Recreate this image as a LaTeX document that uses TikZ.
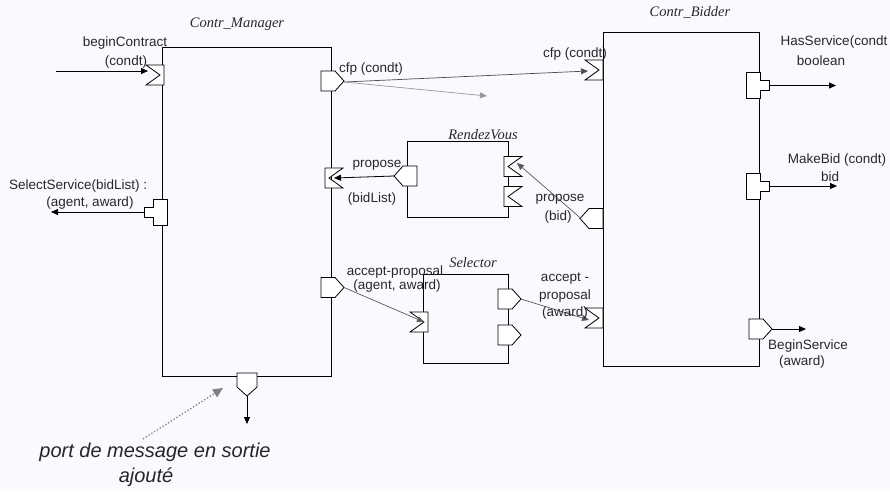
\documentclass[tikz,border=0pt]{standalone}
\usepackage{fontspec}
\setmainfont{Liberation Serif}
\setsansfont{Liberation Sans}
\usetikzlibrary{arrows.meta}
\definecolor{bg}{RGB}{248,250,254}
\definecolor{txt}{RGB}{40,40,40}
\begin{document}
\begin{tikzpicture}[x=1pt,y=-1pt,
  box/.style={draw=black,line width=1pt,inner sep=0pt,anchor=north west},
  lbl/.style={font=\sffamily\fontsize{13.5}{15}\selectfont,text=txt,inner sep=0pt},
  ttl/.style={font=\rmfamily\itshape\fontsize{14.5}{16}\selectfont,text=txt,inner sep=0pt},
  note/.style={font=\sffamily\itshape\fontsize{20}{22}\selectfont,text=black!85,inner sep=0pt},
  portline/.style={draw=black,fill=white,line width=0.8pt},
  conn/.style={-{Triangle[length=7pt,width=6pt]},line width=0.8pt,draw=black},
  gconn/.style={-{Triangle[length=7pt,width=6pt]},line width=0.7pt,draw=black!65},
  inport/.pic={\path[portline] (0,-10) -- (18,-10) -- (18,10) -- (0,10) -- (14,0) -- cycle;},
  outport/.pic={\path[portline] (0,-10) -- (14,-10) -- (23,0) -- (14,10) -- (0,10) -- cycle;},
  tport/.pic={\path[portline] (0,-13) -- (14,-13) -- (14,-5) -- (23,-5) -- (23,5) -- (14,5) -- (14,13) -- (0,13) -- cycle;}
]
\fill[bg] (0,0) rectangle (890,491);
\useasboundingbox (0,0) rectangle (890,491);

% boxes
\node[box,minimum width=169pt,minimum height=329pt] (mgr) at (162,47) {};
\node[box,minimum width=156pt,minimum height=334pt] (bid) at (603,32) {};
\node[box,minimum width=101pt,minimum height=76pt] (rv) at (407,141) {};
\node[box,minimum width=85pt,minimum height=89pt] (sel) at (423,274) {};

% titles
\node[ttl] (tmgr) at (237,24) {Contr\_Manager};
\node[ttl] (tbid) at (690,12) {Contr\_Bidder};
\node[ttl] (trv) at (483,135) {RendezVous};
\node[ttl] (tsel) at (473,263) {Selector};

% ports on Contr_Manager
\pic at (146,75) {inport};
\pic at (321,81) {outport};
\pic[rotate=180] at (343,178) {inport};
\pic[rotate=180] at (167,212) {tport};
\pic at (321,287.5) {outport};
\pic[rotate=-90] at (247,373) {outport};

% ports on Contr_Bidder
\pic at (585,70) {inport};
\pic at (746,85.5) {tport};
\pic at (746,186) {tport};
\pic[rotate=180] at (603,218.5) {outport};
\pic at (585,318) {inport};
\pic at (749,329) {outport};

% ports on RendezVous
\pic[rotate=180] at (417,176) {outport};
\pic[rotate=180] at (522,166.5) {inport};
\pic[rotate=180] at (522,196.5) {inport};

% ports on Selector
\pic at (410,322) {inport};
\pic at (498,299) {outport};
\pic at (498,335) {outport};

% connector end points
\coordinate (bcStart) at (56,71);
\coordinate (bcIn) at (148,71);
\coordinate (cfpM) at (344,82);
\coordinate (cfpB) at (588,71);
\coordinate (grayEnd) at (487,96);
\coordinate (ssM) at (144,212);
\coordinate (ssEnd) at (51,212);
\coordinate (rvL) at (394,176);
\coordinate (propM) at (334,178);
\coordinate (propB) at (581,218.5);
\coordinate (rvR) at (517,163);
\coordinate (accM) at (344,287.5);
\coordinate (selIn) at (424,322);
\coordinate (selOut) at (521,299);
\coordinate (accB) at (589,320);
\coordinate (botM) at (247,396);
\coordinate (botEnd) at (247,424);
\coordinate (hsOut) at (769,85.5);
\coordinate (hsEnd) at (836,85.5);
\coordinate (mbOut) at (769,186);
\coordinate (mbEnd) at (837,186);
\coordinate (bsOut) at (772,329);
\coordinate (bsEnd) at (806,329);
\coordinate (noteStart) at (143,439);
\coordinate (noteEnd) at (223,388);

% connectors
\draw[conn] (bcStart) -- (bcIn);
\draw[gconn,draw=black!70] (cfpM) -- (cfpB);
\draw[gconn,draw=black!40,-{Triangle[length=7pt,width=6pt,fill=black!40]}] (cfpM) -- (grayEnd);
\draw[conn] (ssM) -- (ssEnd);
\draw[conn] (rvL) -- (propM);
\draw[gconn] (propB) -- (rvR);
\draw[gconn] (accM) -- (selIn);
\draw[gconn] (selOut) -- (accB);
\draw[conn] (botM) -- (botEnd);
\draw[conn] (hsOut) -- (hsEnd);
\draw[conn] (mbOut) -- (mbEnd);
\draw[conn] (bsOut) -- (bsEnd);
\draw[draw=black!50,line width=1.3pt,dotted,-{Triangle[length=10pt,width=9pt,fill=black!50]}] (noteStart) -- (noteEnd);

% labels
\node[lbl] (l1) at (125,43) {beginContract};
\node[lbl] (l2) at (126,62) {(condt)};
\node[lbl,anchor=west] (l3) at (339,69) {cfp (condt)};
\node[lbl] (l4) at (575,54) {cfp (condt)};
\node[lbl] (l5) at (834,42) {HasService(condt};
\node[lbl] (l6) at (821,61) {boolean};
\node[lbl] (l7) at (837,160) {MakeBid (condt)};
\node[lbl] (l8) at (830,177) {bid};
\node[lbl] (l9) at (808,346) {BeginService};
\node[lbl] (l10) at (802,362) {(award)};
\node[lbl] (l11) at (377,165) {propose};
\node[lbl] (l12) at (372,199) {(bidList)};
\node[lbl] (l13) at (560,199) {propose};
\node[lbl] (l14) at (558,217) {(bid)};
\node[lbl,anchor=west] (l15) at (9,186) {SelectService(bidList) :};
\node[lbl] (l16) at (90,203) {(agent, award)};
\node[lbl] (l17) at (395,272) {accept-proposal};
\node[lbl] (l18) at (397,286) {(agent, award)};
\node[lbl] (l19) at (565,279) {accept -};
\node[lbl] (l20) at (565,296) {proposal};
\node[lbl] (l21) at (565,313) {(award)};
\node[note] (n1) at (155,452) {port de message en sortie};
\node[note] (n2) at (146,477) {ajouté};
\end{tikzpicture}
\end{document}
